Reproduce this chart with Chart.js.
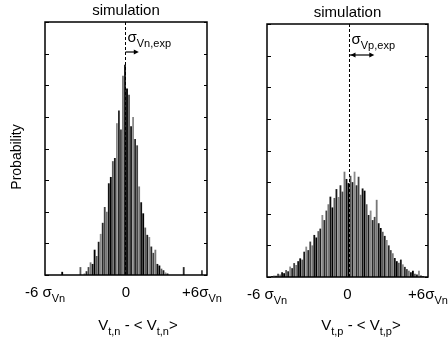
<!DOCTYPE html>
<html>
<head>
<meta charset="utf-8">
<script src="https://cdn.jsdelivr.net/npm/chart.js@4"></script>
<style>
  html, body { margin: 0; padding: 0; background: #fff; }
  #wrap { position: relative; width: 448px; height: 345px; overflow: hidden; }
  canvas { position: absolute; top: 0; }
</style>
</head>
<body>
<div id="wrap">
  <canvas id="left" style="left:0px"></canvas>
  <canvas id="right" style="left:224px"></canvas>
</div>
<script>
// bin width 0.15 sigma, 80 bins from -6 to +6 (centres)
const binWidth = 0.15;
const binCentres = [];
for (let i = 0; i < 80; i++) binCentres.push(+(-6 + binWidth * (i + 0.5)).toFixed(3));

// probability per bin (arbitrary units, 8 tick divisions on y)
const neutronCounts = [
  0, 0, 0, 0, 0, 0, 0, 0, 0.1, 0,
  0, 0, 0, 0, 0, 0, 0, 0.25, 0, 0.05,
  0.12, 0.25, 0.4, 0.35, 0.8, 0.6, 1.05, 1.3, 1.65, 2.15,
  2.0, 2.9, 3.1, 3.6, 3.7, 4.8, 5.2, 4.6, 6.3, 6.65,
  5.9, 5.7, 4.7, 5.0, 4.3, 4.1, 2.8, 2.3, 1.95, 1.5,
  1.27, 1.2, 0.9, 0.7, 0.8, 0.35, 0.3, 0.2, 0.15, 0.08,
  0.05, 0, 0, 0, 0, 0, 0, 0, 0.25, 0,
  0, 0, 0, 0, 0, 0, 0, 0.15, 0, 0
];
const protonCounts = [
  0, 0, 0.03, 0.05, 0.04, 0.1, 0.08, 0.15, 0.12, 0.22,
  0.18, 0.33, 0.28, 0.44, 0.38, 0.5, 0.59, 0.55, 0.8, 0.96,
  0.85, 1.12, 1.0, 1.33, 1.25, 1.45, 1.53, 1.96, 1.8, 2.1,
  2.3, 2.54, 2.2, 2.5, 2.78, 2.53, 2.9, 2.7, 3.33, 3.1,
  2.97, 3.2, 3.0, 3.33, 2.9, 3.17, 2.6, 2.8, 2.73, 2.3,
  1.96, 2.1, 1.8, 1.9, 2.44, 1.7, 1.55, 1.43, 1.3, 1.17,
  1.0, 0.85, 0.75, 0.6, 0.5, 0.45, 0.55, 0.4, 0.32, 0.25,
  0.2, 0.15, 0.2, 0.1, 0.08, 0.2, 0.05, 0.03, 0, 0
];

const xTickValues = [-6, 0, 6];
const xTickLabels = [
  [['-6 σ', 'n'], ['Vn', 's']],
  [['0', 'n']],
  [['+6σ', 'n'], ['Vn', 's']]
];

const FONT = '"Liberation Sans", Arial, Helvetica, sans-serif';
const barGreys = ['#000', '#5a5a5a', '#1a1a1a', '#8a8a8a', '#2a2a2a', '#444', '#777', '#111'];

// draws a run of normal / subscript pieces centred at x
function drawParts(ctx, parts, x, y, size, align) {
  const subSize = Math.round(size * 0.72);
  let w = 0;
  parts.forEach(p => {
    ctx.font = (p[1] === 's' ? subSize : size) + 'px ' + FONT;
    w += ctx.measureText(p[0]).width;
  });
  let cx = align === 'left' ? x : x - w / 2;
  parts.forEach(p => {
    const sub = p[1] === 's';
    ctx.font = (sub ? subSize : size) + 'px ' + FONT;
    ctx.fillText(p[0], cx, sub ? y + size * 0.3 : y);
    cx += ctx.measureText(p[0]).width;
  });
}

function arrowHead(ctx, x, y, dir) {
  ctx.beginPath();
  ctx.moveTo(x, y);
  ctx.lineTo(x - dir * 5, y - 2.5);
  ctx.lineTo(x - dir * 5, y + 2.5);
  ctx.closePath();
  ctx.fill();
}

const decor = {
  id: 'decor',
  afterDraw(chart, args, o) {
    const {ctx, chartArea: a, scales} = chart;
    const xs = scales.x, ys = scales.y;
    ctx.save();
    ctx.fillStyle = '#000';
    ctx.strokeStyle = '#000';
    ctx.textAlign = 'left';
    ctx.textBaseline = 'alphabetic';

    // frame
    ctx.lineWidth = 1.5;
    ctx.strokeRect(a.left, a.top, a.right - a.left, a.bottom - a.top);

    // inward y ticks
    ctx.lineWidth = 1;
    ys.ticks.forEach(t => {
      const y = Math.round(ys.getPixelForValue(t.value)) + 0.5;
      ctx.beginPath();
      ctx.moveTo(a.left, y); ctx.lineTo(a.left + 4, y);
      ctx.moveTo(a.right, y); ctx.lineTo(a.right - 3, y);
      ctx.stroke();
    });

    // dashed reference line
    const dx = Math.round(xs.getPixelForValue(o.dashAt)) + 0.5;
    ctx.setLineDash([3, 2]);
    ctx.beginPath();
    ctx.moveTo(dx, a.top);
    ctx.lineTo(dx, a.bottom);
    ctx.stroke();
    ctx.setLineDash([]);

    // sigma annotation + arrow
    drawParts(ctx, [['σ', 'n'], [o.sigmaSub, 's']], dx + 2, a.top + 20, 15, 'left');
    const ax2 = xs.getPixelForValue(o.dashAt + o.arrowLen);
    const ay = a.top + o.arrowY;
    ctx.lineWidth = 1.2;
    ctx.beginPath();
    ctx.moveTo(dx, ay); ctx.lineTo(ax2 - 3, ay);
    ctx.stroke();
    arrowHead(ctx, ax2, ay, 1);
    if (o.arrowBoth) arrowHead(ctx, dx + 1, ay, -1);

    // title
    drawParts(ctx, [['simulation', 'n']], (a.left + a.right) / 2, a.top - 7, 15);

    // x tick labels
    xTickValues.forEach((v, i) => {
      const px = xs.getPixelForValue(v) + o.tickShift[i];
      drawParts(ctx, xTickLabels[i], px, a.bottom + 22, 15);
    });

    // x axis title
    drawParts(ctx, o.xTitle, o.xTitleX, 330, 15);

    // y axis title
    if (o.yTitle) {
      ctx.save();
      ctx.translate(21, 157);
      ctx.rotate(-Math.PI / 2);
      drawParts(ctx, [[o.yTitle, 'n']], 0, 0, 14);
      ctx.restore();
    }
    ctx.restore();
  }
};

function makeChart(id, width, counts, pad, extra) {
  const el = document.getElementById(id);
  el.width = width; el.height = 345;
  el.style.width = width + 'px'; el.style.height = '345px';
  return new Chart(el, {
    type: 'bar',
    data: {
      datasets: [{
        data: binCentres.map((c, i) => ({x: c, y: counts[i]})),
        backgroundColor: counts.map((_, i) => barGreys[i % barGreys.length]),
        borderWidth: 0,
        barPercentage: 0.9,
        categoryPercentage: 1
      }]
    },
    options: {
      responsive: false,
      animation: false,
      layout: {padding: pad},
      scales: {
        x: {type: 'linear', min: -6, max: 6, offset: false, display: false},
        y: {min: 0, max: 8, ticks: {stepSize: 1}, display: false}
      },
      plugins: {
        legend: {display: false},
        tooltip: {enabled: false},
        decor: extra
      }
    },
    plugins: [decor]
  });
}

makeChart('left', 230, neutronCounts, {left: 45, right: 23, top: 22, bottom: 70}, {
  dashAt: -0.05, sigmaSub: 'Vn,exp', arrowLen: 1.0, arrowY: 30, arrowBoth: false,
  tickShift: [0, 0, -5],
  xTitle: [['V', 'n'], ['t,n', 's'], [' - ', 'n'], ['< V', 'n'], ['t,n', 's'], ['>', 'n']],
  xTitleX: 138, yTitle: 'Probability'
});

makeChart('right', 224, protonCounts, {left: 43, right: 20, top: 24, bottom: 68}, {
  dashAt: 0.1, sigmaSub: 'Vp,exp', arrowLen: 1.9, arrowY: 31, arrowBoth: true,
  tickShift: [0, 0, 0],
  xTitle: [['V', 'n'], ['t,p', 's'], [' - ', 'n'], ['< V', 'n'], ['t,p', 's'], ['>', 'n']],
  xTitleX: 137, yTitle: null
});
</script>
</body>
</html>
